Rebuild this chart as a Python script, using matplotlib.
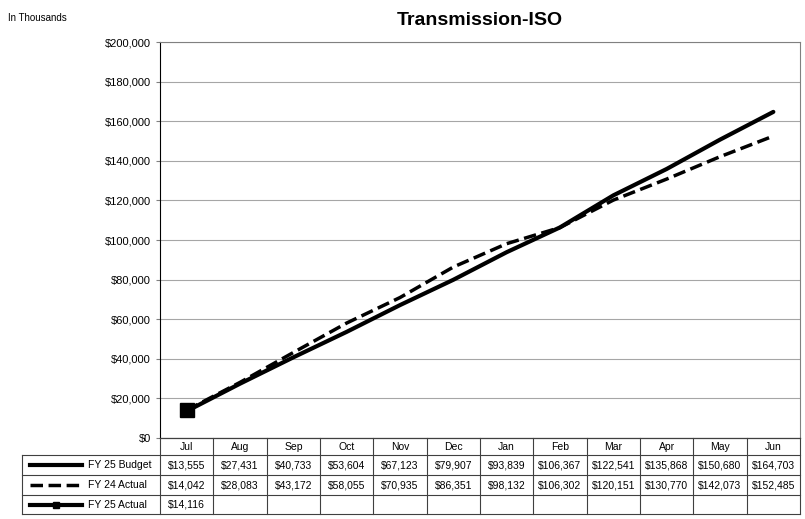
import matplotlib.pyplot as plt
from matplotlib.lines import Line2D
from matplotlib.ticker import FuncFormatter

months = ["Jul", "Aug", "Sep", "Oct", "Nov", "Dec", "Jan", "Feb", "Mar", "Apr", "May", "Jun"]
fy25_budget = [13555, 27431, 40733, 53604, 67123, 79907, 93839, 106367, 122541, 135868, 150680, 164703]
fy24_actual = [14042, 28083, 43172, 58055, 70935, 86351, 98132, 106302, 120151, 130770, 142073, 152485]
fy25_actual = [14116]
series_names = ["FY 25 Budget", "FY 24 Actual", "FY 25 Actual"]

plt.rcParams['font.family'] = ['Liberation Sans', 'DejaVu Sans']
narrow = ['Liberation Sans Narrow', 'Liberation Sans', 'DejaVu Sans']

fig = plt.figure(figsize=(8.05, 5.19), dpi=100)
ax = fig.add_axes([160 / 805, 81 / 519, 640 / 805, 396 / 519])

x = [i + 0.5 for i in range(len(months))]
ax.plot(x, fy25_budget, color='black', lw=3, solid_capstyle='round')
ax.plot(x, fy24_actual, color='black', lw=2.5, ls=(0, (3.6, 1.6)))
ax.plot(x[:len(fy25_actual)], fy25_actual, color='black', lw=3, marker='s', ms=10)

ax.set_xlim(0, 12)
ax.set_ylim(0, 200000)
ax.set_yticks(range(0, 200001, 20000))
ax.yaxis.set_major_formatter(FuncFormatter(lambda v, p: f"${v:,.0f}"))
ax.tick_params(axis='y', labelsize=8, length=3, color='#808080')
ax.set_xticks([])
ax.grid(axis='y', color='#a6a6a6', lw=0.8)
ax.set_axisbelow(True)
for s in ['top', 'right']:
    ax.spines[s].set_color('#808080')
ax.spines['left'].set_color('black')
ax.spines['bottom'].set_color('black')

ax.set_title("Transmission-ISO", fontsize=14, fontweight='bold', pad=12)
fig.text(8 / 805, 1 - 18 / 519, "In Thousands", fontsize=7, va='center')

# data table below the chart
rows = [fy25_budget, fy24_actual, fy25_actual]
left_px, right_px = 22, 800
col_w = (800 - 160) / 12
row_tops = [438, 455, 475, 495, 514]


def fx(px):
    return px / 805


def fy(py):
    return 1 - py / 519


edge = '#404040'
# header row
for i, m in enumerate(months):
    x0 = 160 + i * col_w
    fig.add_artist(Line2D([fx(x0), fx(x0)], [fy(438), fy(514)], color=edge, lw=0.8))
    fig.text(fx(x0 + col_w / 2), fy(446.5), m, ha='center', va='center', fontsize=7.5, family=narrow)
fig.add_artist(Line2D([fx(800), fx(800)], [fy(438), fy(514)], color=edge, lw=0.8))
fig.add_artist(Line2D([fx(left_px), fx(left_px)], [fy(455), fy(514)], color=edge, lw=0.8))
fig.add_artist(Line2D([fx(160), fx(800)], [fy(438), fy(438)], color=edge, lw=0.8))
for yp in row_tops[1:]:
    fig.add_artist(Line2D([fx(left_px), fx(800)], [fy(yp), fy(yp)], color=edge, lw=0.8))

styles = [dict(lw=3, ls='-'), dict(lw=2.5, ls=(0, (3.6, 1.6))), dict(lw=3, ls='-', marker='s', ms=5, markevery=[1])]
for r, (name, vals) in enumerate(zip(series_names, rows)):
    yc = (row_tops[r + 1] + row_tops[r + 2]) / 2
    st = styles[r]
    if 'marker' in st:
        fig.add_artist(Line2D([fx(30), fx(56), fx(82)], [fy(yc)] * 3, color='black', **st))
    else:
        fig.add_artist(Line2D([fx(30), fx(82)], [fy(yc)] * 2, color='black', **st))
    fig.text(fx(88), fy(yc), name, ha='left', va='center', fontsize=7.5, family=narrow)
    for i, v in enumerate(vals):
        fig.text(fx(160 + (i + 0.5) * col_w), fy(yc), f"${v:,}", ha='center', va='center',
                 fontsize=7.5, family=narrow)

fig.savefig('out.png', dpi=100)
